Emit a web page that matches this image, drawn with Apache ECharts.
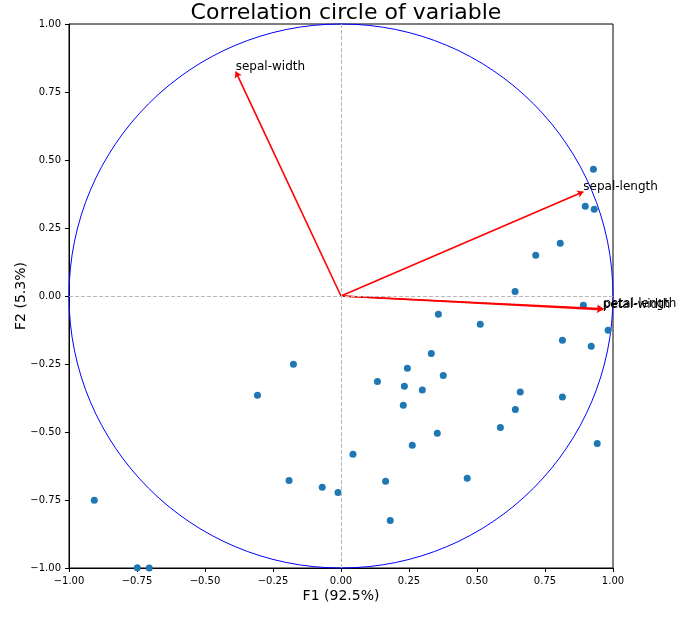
<!DOCTYPE html>
<html>
<head>
<meta charset="utf-8">
<script src="https://cdn.jsdelivr.net/npm/echarts@6/dist/echarts.min.js"></script>
<style>html,body{margin:0;padding:0;background:#fff}#c{width:699px;height:617px}</style>
</head>
<body>
<div id="c"></div>
<script>
// Individuals projected on F1/F2
const pointsF1 = [-0.175,-0.307,0.044,-0.191,-0.069,-0.011,-0.907,-0.749,-0.705,
  0.928,0.898,0.931,0.806,0.716,0.640,0.891,0.358,0.512,0.982,0.814,0.920,0.332,0.244,0.376,0.134,0.233,0.299,0.659,0.814,
  0.229,0.641,0.586,0.354,0.262,0.942,0.164,0.464,0.181];
const pointsF2 = [-0.251,-0.365,-0.582,-0.678,-0.703,-0.722,-0.751,-0.999,-1.000,
  0.466,0.330,0.319,0.194,0.150,0.017,-0.034,-0.067,-0.104,-0.126,-0.163,-0.185,-0.211,-0.266,-0.292,-0.314,-0.332,-0.346,-0.353,-0.371,
  -0.402,-0.417,-0.483,-0.505,-0.549,-0.542,-0.681,-0.670,-0.825];
// Variable loadings
const varNames = ['sepal-length','sepal-width','petal-length','petal-width'];
const loadF1 = [0.891,-0.387,0.965,0.962];
const loadF2 = [0.383,0.825,-0.047,-0.050];
// Axis ticks
const axisMin = -1, axisMax = 1, axisStep = 0.25;
const titleText = 'Correlation circle of variable';
const xName = 'F1 (92.5%)', yName = 'F2 (5.3%)';

const font = 'DejaVu Sans';
const fmt = v => v.toFixed(2).replace('-', '\u2212');

const chart = echarts.init(document.getElementById('c'), null, {renderer: 'canvas'});
const axisCommon = {
  type: 'value', min: axisMin, max: axisMax, interval: axisStep,
  splitLine: {show: false},
  axisLine: {onZero: false, lineStyle: {color: '#000', width: 1}},
  axisTick: {length: 4, lineStyle: {color: '#000'}},
  axisLabel: {color: '#000', fontSize: 10, fontFamily: font, formatter: fmt},
  nameLocation: 'middle',
  nameMoveOverlap: false,
  nameTextStyle: {color: '#000', fontSize: 14, fontFamily: font}
};
chart.setOption({
  animation: false,
  title: {text: titleText, left: 341, textAlign: 'center', top: -3,
    textStyle: {fontSize: 22, fontWeight: 'normal', color: '#000', fontFamily: font}},
  grid: {left: 69, right: 86, top: 24, bottom: 49, show: true, borderColor: '#000', borderWidth: 1,
    containLabel: false, outerBoundsMode: 'none'},
  xAxis: Object.assign({}, axisCommon, {name: xName, nameGap: 21}),
  yAxis: Object.assign({}, axisCommon, {name: yName, nameGap: 41}),
  series: [
    {
      type: 'custom', coordinateSystem: 'cartesian2d', silent: true, clip: false,
      data: [[0, 0, 1]],
      renderItem: (params, api) => {
        const c = api.coord([api.value(0), api.value(1)]);
        const r = api.size([api.value(2), api.value(2)]);
        return {type: 'ellipse', shape: {cx: c[0], cy: c[1], rx: r[0], ry: r[1]},
          style: {fill: null, stroke: '#0000ff', lineWidth: 1}};
      },
      z: 1
    },
    {
      type: 'scatter', symbolSize: 7, clip: true,
      itemStyle: {color: '#1f77b4', opacity: 1},
      data: pointsF1.map((x, i) => [x, pointsF2[i]]),
      markLine: {
        silent: true, symbol: 'none', label: {show: false},
        lineStyle: {color: '#b8b8b8', type: [4, 2], width: 1},
        data: [{xAxis: 0}, {yAxis: 0}]
      },
      z: 2
    },
    {
      type: 'lines', coordinateSystem: 'cartesian2d',
      symbol: ['none', 'arrow'], symbolSize: [0, 6],
      lineStyle: {color: '#ff0000', width: 1.6, opacity: 1},
      data: varNames.map((n, i) => ({coords: [[0, 0], [loadF1[i], loadF2[i]]]})),
      z: 3
    },
    {
      type: 'scatter', symbolSize: 0, silent: true, clip: false,
      itemStyle: {opacity: 1},
      data: varNames.map((n, i) => ({value: [loadF1[i], loadF2[i]], name: n})),
      label: {show: true, formatter: p => p.name, position: [0, 1], align: 'left', verticalAlign: 'bottom',
        color: '#000', opacity: 1, fontSize: 12, fontFamily: font},
      z: 4
    }
  ]
});
</script>
</body>
</html>
